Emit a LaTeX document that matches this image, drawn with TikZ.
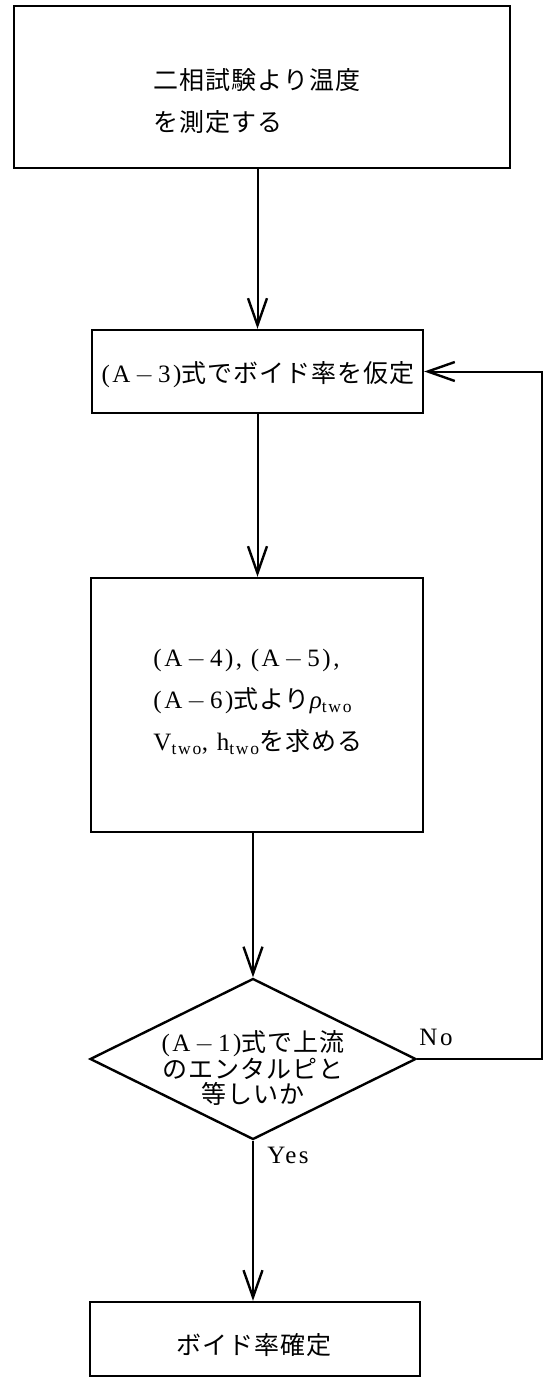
\documentclass[tikz,border=0pt]{standalone}
\usepackage{fontspec}
\setmainfont[LetterSpace=10]{Liberation Serif}
\newfontfamily\jp[LetterSpace=4]{Noto Sans CJK JP}
\usetikzlibrary{arrows.meta,shapes.geometric}

% wide minus between the letter and the number of an equation label
\newcommand{\eqminus}{\,$-$\,}

\tikzset{
  frame/.style={draw, line width=2.4pt, inner sep=0pt, line join=miter},
  txt/.style={inner sep=0pt, font=\fontsize{25}{42}\selectfont},
  flow/.style={line width=2pt, line join=miter,
    -{Straight Barb[length=27pt,width=19pt,line width=2.4pt]}},
}

\begin{document}
\begin{tikzpicture}[x=1pt,y=-1pt]
  \useasboundingbox (0,0) rectangle (544,1380);

  % process boxes and decision
  \node[frame, minimum width=496pt, minimum height=162pt] (b1) at (262,87) {};
  \node[frame, minimum width=331pt, minimum height=83pt]  (b2) at (257.5,371.5) {};
  \node[frame, minimum width=332pt, minimum height=254pt] (b3) at (257,705) {};
  \node[frame, diamond, minimum width=326pt, minimum height=161pt] (d) at (253,1059) {};
  \node[frame, minimum width=330pt, minimum height=74pt]  (b4) at (255,1339) {};

  % texts
  \node[txt, align=left] (t1) at (257,101) {{\jp 二相試験より温度}\\{\jp を測定する}};
  \node[txt] (t2) at (258,375) {(A\eqminus 3){\jp 式でボイド率を仮定}};
  \node[txt, align=left] (t3) at (258,702)
    {(A\eqminus 4), (A\eqminus 5),\\
     (A\eqminus 6){\jp 式より}{\itshape ρ}\textsubscript{two}\\
     V\textsubscript{two}, h\textsubscript{two}{\jp を求める}};
  \node[txt, align=center, font=\fontsize{25}{24.5}\selectfont] (t4) at (253,1068)
    {(A\eqminus 1){\jp 式で上流}\\{\jp のエンタルピと}\\{\jp 等しいか}};
  \node[txt] (t5) at (254,1345) {\jp ボイド率確定};
  \node[txt] (no) at (436,1037) {No};
  \node[txt] (yes) at (288,1155) {Yes};

  % connectors
  \draw[flow] (b1.south -| b2.north) -- (b2.north);
  \draw[flow] (b2.south) -- (b2.south |- b3.north);
  \draw[flow] (b3.south -| d.north) -- (d.north);
  \draw[flow] (d.south) -- (d.south |- b4.north);
  \coordinate (c1) at (542,1059);
  \coordinate (c2) at (542,371.5);
  \draw[flow] (d.east) -- (c1) -- (c2) -- (b2.east);
\end{tikzpicture}
\end{document}
